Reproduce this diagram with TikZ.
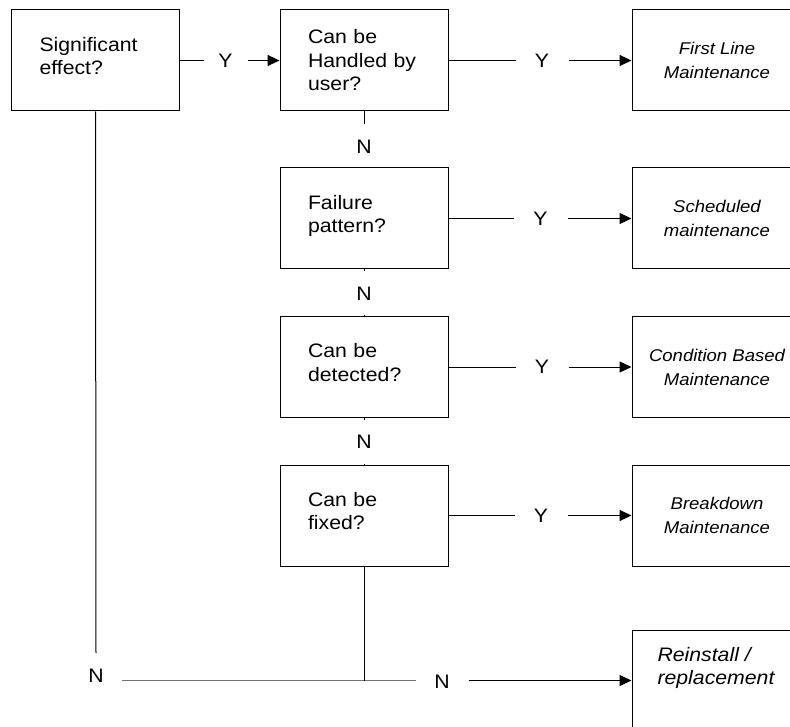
\documentclass[tikz,border=0pt]{standalone}
\usepackage{fontspec}
\setmainfont[FakeStretch=1.09]{Liberation Sans}
\usetikzlibrary{arrows.meta}
\newcommand\mydiagfont{\fontsize{19.5pt}{23.5pt}\selectfont}
\newcommand\myactfont{\fontsize{17pt}{24pt}\selectfont}
\begin{document}
\begin{tikzpicture}[x=1pt,y=-1pt,
  line width=1pt,
  qbox/.style={draw=black, minimum width=168pt, minimum height=101pt,
    text width=112pt, align=left, inner sep=0pt, font=\mydiagfont},
  twoline/.style={text depth=33pt},
  abox/.style={draw=black, minimum width=170pt, minimum height=101pt,
    align=center, inner sep=0pt, font=\myactfont\itshape},
  itxt/.style={inner sep=0pt, align=left, font=\mydiagfont\itshape},
  lbl/.style={inner sep=0pt, font=\mydiagfont},
  arr/.style={-{Triangle[length=12pt,width=11pt]}}
]
\clip (0,0) rectangle (790,727);
\useasboundingbox (0,0) rectangle (790,727);

% question boxes
\node[qbox, twoline] (A)  at (95.5,60.5) {Significant\\effect?};
\node[qbox] (B)  at (364,60.5)  {Can be\\Handled by\\user?};
\node[qbox, twoline] (Fp) at (364,218.5) {Failure\\pattern?};
\node[qbox, twoline] (D)  at (364,367)   {Can be\\detected?};
\node[qbox, twoline] (F)  at (364,515.5) {Can be\\fixed?};

% action boxes
\node[abox] (FLM) at (717,60.5)  {First Line\\Maintenance};
\node[abox] (SM)  at (717,218.5) {Scheduled\\maintenance};
\node[abox] (CBM) at (717,367)   {Condition Based\\Maintenance};
\node[abox] (BM)  at (717,515.5) {Breakdown\\Maintenance};
\node[abox] (R)   at (717,680.5) {};
\node[itxt, anchor=north west] (Rt) at (657,646.5) {Reinstall /\\replacement};

% labels (gaps)
\node[lbl, minimum width=43pt] (Y1) at (225.5,60.5) {Y};
\node[lbl, minimum width=52pt] (Y2) at (542,60.5)  {Y};
\node[lbl, minimum width=53pt] (Y3) at (540.5,218.5) {Y};
\node[lbl, minimum width=52pt] (Y4) at (542,367) {Y};
\node[lbl, minimum width=52pt] (Y5) at (541,515.5) {Y};

\node[lbl, minimum height=43pt] (N1) at (364,146.5) {N};
\node[lbl, minimum height=43pt] (N2) at (364,293.5) {N};
\node[lbl, minimum height=43pt] (N3) at (364,441.5) {N};
\node[lbl] (NL) at (96,676) {N};
\node[lbl, minimum width=52pt, minimum height=20pt] (NB) at (442,682) {N};

\coordinate (aEnd) at (96,653);
\coordinate (nl) at (122,680.5);

% Y connectors
\draw (A.east) -- (Y1.west);
\draw[arr] (Y1.east) -- (B.west);
\draw (B.east) -- (Y2.west);
\draw[arr] (Y2.east) -- (FLM.west);
\draw (Fp.east) -- (Y3.west);
\draw[arr] (Y3.east) -- (SM.west);
\draw (D.east) -- (Y4.west);
\draw[arr] (Y4.east) -- (CBM.west);
\draw (F.east) -- (Y5.west);
\draw[arr] (Y5.east) -- (BM.west);

% N connectors
\draw (B.south) -- (N1.north);
\draw (Fp.south) -- (N2.north);
\draw (N2.south) -- (D.north);
\draw (D.south) -- (N3.north);
\draw (N3.south) -- (F.north);

\draw (A.south) -- (aEnd);
\draw[black!55] (nl) -- (NB.west |- nl);
\draw[arr] (NB.east |- nl) -- (R.west);
\draw (F.south) -- (F.south |- nl);
\end{tikzpicture}
\end{document}
